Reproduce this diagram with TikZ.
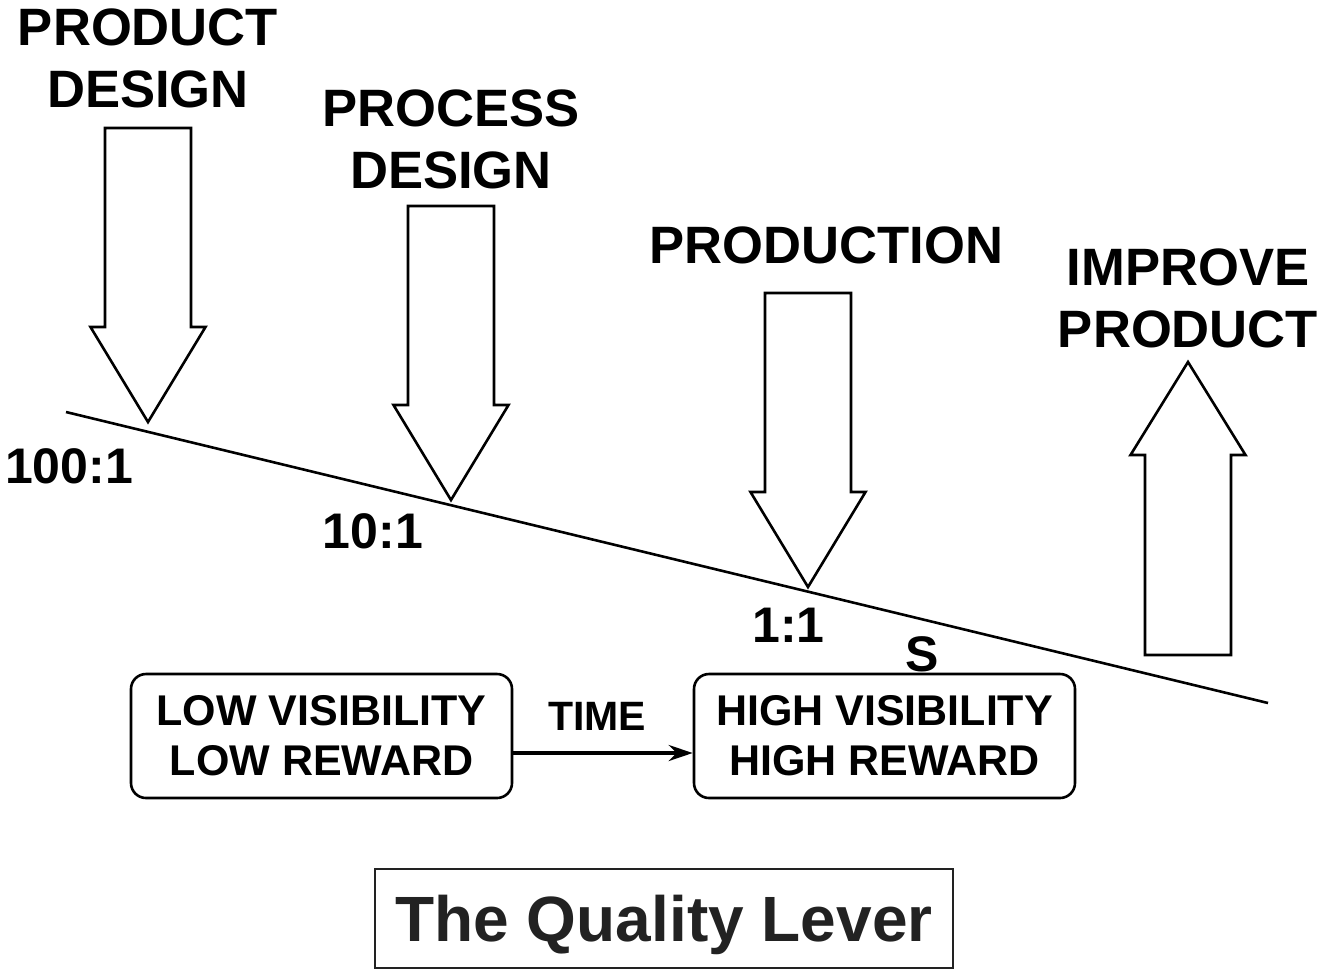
\documentclass[tikz,border=0pt]{standalone}
\usepackage{fontspec}
\setmainfont{Liberation Sans}
\usetikzlibrary{arrows,arrows.meta}
\definecolor{titlegray}{HTML}{222222}
\tikzstyle{blockarrow}=[draw,fill=white,line width=1.3pt,line join=miter]
\tikzstyle{heading}=[align=center,inner sep=0pt,font=\fontsize{26.3}{31}\selectfont\bfseries]
\tikzstyle{ratiotext}=[inner sep=0pt,font=\fontsize{25}{30}\selectfont\bfseries]
\tikzstyle{stagebox}=[draw,rounded corners=7.5pt,line width=1.3pt,minimum width=190.5pt,minimum height=62pt,align=center,font=\fontsize{21.5}{25}\selectfont\bfseries]
\tikzstyle{lever}=[draw,line width=1.3pt]

\begin{document}
\begin{tikzpicture}[x=0.5pt,y=-0.5pt]
      \useasboundingbox (0,0) rectangle (1322,971);
      % the lever itself
      \coordinate (lleft) at (66,412);
      \coordinate (lright) at (1268,703);
      \path[lever] (lleft) -- (lright);
      % stages pushing down on the lever
      \foreach \x/\y/\id in {148/422/pd,451/500/pr,808/587/pn}{
        \coordinate (\id) at (\x,\y);
        \path[blockarrow] (\id) -- ++(-57.5,-95) -- ++(14.5,0) -- ++(0,-199)
          -- ++(86,0) -- ++(0,199) -- ++(14.5,0) -- cycle;
      }
      \coordinate (ip) at (1188,362);
      \path[blockarrow] (ip) -- ++(-57.5,93) -- ++(14.5,0) -- ++(0,200)
        -- ++(86,0) -- ++(0,-200) -- ++(14.5,0) -- cycle;
      \node[heading] (pdtext) at (148,58) {PRODUCT\\DESIGN};
      \node[heading] (prtext) at (451,139.5) {PROCESS\\DESIGN};
      \node[heading] (pntext) at (826.5,245) {PRODUCTION};
      \node[heading] (iptext) at (1188,298) {IMPROVE\\PRODUCT};
      % leverage ratios
      \node[ratiotext] (r100) at (69,466.5) {100:1};
      \node[ratiotext] (r10) at (373,531) {10:1};
      \node[ratiotext] (r1) at (788.5,625) {1:1};
      \node[ratiotext] (s) at (922,654) {S};
      % visibility over time
      \node[stagebox] (low) at (321.5,736) {LOW VISIBILITY\\LOW REWARD};
      \node[stagebox] (high) at (884.5,736) {HIGH VISIBILITY\\HIGH REWARD};
      \draw[line width=2pt,-{Stealth[length=12pt,width=8pt,inset=4pt]}] ([yshift=-8.5pt]low.east) -- ([yshift=-8.5pt]high.west);
      \node[inner sep=0pt,font=\fontsize{20.5}{24}\selectfont\bfseries] (time) at (597,716.5) {TIME};
      \node[draw=titlegray,line width=1.3pt,text=titlegray,text depth=0pt,minimum width=289pt,minimum height=49.5pt,font=\fontsize{32}{38}\selectfont\bfseries] (title) at (664,918.5) {The Quality Lever};

    \end{tikzpicture}
\end{document}
